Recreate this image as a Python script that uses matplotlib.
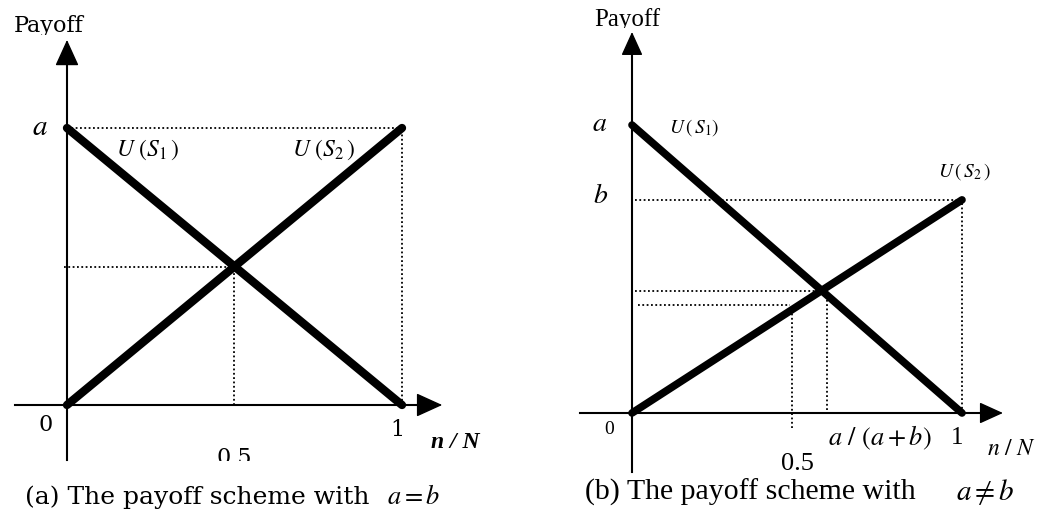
import matplotlib
matplotlib.use("Agg")
import matplotlib.pyplot as plt
from matplotlib.patches import Rectangle

plt.rcParams["mathtext.fontset"] = "stix"
plt.rcParams["font.family"] = "Liberation Serif"

# share of players n/N at the two ends of each payoff line
n_share = [0.0, 1.0]

# (a) a == b
u1_eq = [1.0, 0.0]   # U(S1): a -> 0
u2_eq = [0.0, 1.0]   # U(S2): 0 -> b (= a)

# (b) a != b
u1_neq = [1.0, 0.0]  # U(S1): a -> 0
u2_neq = [0.0, 0.74]  # U(S2): 0 -> b

W, H = 1041, 516
fig = plt.figure(figsize=(W / 100, H / 100), dpi=100)

DOT = dict(color="black", lw=1.3, ls=(0, (1, 1.4)))
THICK = dict(color="black", solid_capstyle="round")


def make_axes(left_px, right_px, origin, unit_x, unit_y):
    """Axes spanning a pixel strip, with data (0,0) at `origin` pixel."""
    ax = fig.add_axes([left_px / W, 0, (right_px - left_px) / W, 1])
    ox, oy = origin
    ax.set_xlim((left_px - ox) / unit_x, (right_px - ox) / unit_x)
    ax.set_ylim((oy - H) / unit_y, oy / unit_y)
    ax.axis("off")
    return ax


def draw_axes_arrows(ax, x0, x1, y0, y1, scale=30):
    ax.plot([x0, x1 - 0.03], [0, 0], color="black", lw=1.5)
    ax.plot([0, 0], [y0, y1 - 0.03], color="black", lw=1.5)
    ap = dict(arrowstyle="-|>,head_length=0.55,head_width=0.25",
              color="black", lw=1.0, mutation_scale=scale,
              shrinkA=0, shrinkB=0)
    ax.annotate("", xy=(x1, 0), xytext=(x1 - 0.2, 0), arrowprops=ap)
    ax.annotate("", xy=(0, y1), xytext=(0, y1 - 0.2), arrowprops=ap)


def clipped_text(ax, x, y, s, ymin, ymax, **kw):
    t = ax.text(x, y, s, clip_on=True, **kw)
    box = Rectangle((-5, ymin), 10, ymax - ymin, transform=ax.transData)
    t.set_clip_path(box)
    return t


# ---- panel (a) ----
ax = make_axes(0, 520, (67, 405), 335, 277)
draw_axes_arrows(ax, -0.155, 1.12, -0.2, 1.318)

a_eq = u1_eq[0]
b_eq = u2_eq[1]
xc = a_eq / (a_eq + b_eq)
yc = b_eq * xc
ax.plot([0, n_share[1]], [a_eq, a_eq], **DOT)
ax.plot([n_share[1], n_share[1]], [0, b_eq], **DOT)
ax.plot([-0.01, xc], [yc, yc], **DOT)
ax.plot([xc, xc], [0, yc], **DOT)
ax.plot(n_share, u1_eq, lw=6, **THICK)
ax.plot(n_share, u2_eq, lw=6, **THICK)

ax.text(-0.08, 1.0, "$a$", fontsize=21, ha="center", va="center")
ax.text(0.24, 0.92, r"$U\ (S_1\,)$", fontsize=17, ha="center", va="center")
ax.text(0.767, 0.92, r"$U\ (S_2\,)$", fontsize=17, ha="center", va="center")
ax.text(-0.063, -0.072, "0", fontsize=16, ha="center", va="center",
        family="DejaVu Serif")
ax.text(0.985, -0.09, "1", fontsize=16, ha="center", va="center",
        family="DejaVu Serif")
ax.text(1.16, -0.134, "n / N", fontsize=17, ha="center", va="center",
        fontstyle="italic", fontweight="bold")
clipped_text(ax, xc, -0.193, "0.5", -0.202, 0.0, fontsize=16,
             ha="center", va="center", family="DejaVu Serif")
clipped_text(ax, -0.055, 1.368, "Payoff", 1.336, 2.0, fontsize=16,
             ha="center", va="center", family="DejaVu Serif")
ax.text(-0.125, (405 - 497) / 277, "(a) The payoff scheme with",
        fontsize=18, ha="left", va="center", family="DejaVu Serif")
ax.text(1.036, (405 - 497) / 277, "$a = b$", fontsize=19, ha="center",
        va="center")

# ---- panel (b) ----
ax = make_axes(520, 1041, (632, 413), 330, 288)
draw_axes_arrows(ax, -0.158, 1.124, -0.205, 1.323, scale=27)

a_ne = u1_neq[0]
b_ne = u2_neq[1]
xc = a_ne / (a_ne + b_ne)
yc = b_ne * xc
y_half = b_ne * 0.5
ax.plot([0.01, n_share[1]], [b_ne, b_ne], **DOT)
ax.plot([n_share[1], n_share[1]], [0, b_ne], **DOT)
ax.plot([0.01, xc], [yc, yc], **DOT)
ax.plot([0.018, 0.48], [y_half + 0.006, y_half + 0.006], **DOT)
ax.plot([0.485, 0.485], [-0.052, y_half], **DOT)
ax.plot([xc + 0.017, xc + 0.017], [0.01, yc - 0.03], **DOT)
ax.plot(n_share, u1_neq, lw=5.5, **THICK)
ax.plot(n_share, u2_neq, lw=5.5, **THICK)

ax.text(-0.097, 1.003, "$a$", fontsize=20, ha="center", va="center")
ax.text(-0.094, 0.753, "$b$", fontsize=20, ha="center", va="center")
ax.text(0.188, 0.99, r"$U\,(\,S_1)$", fontsize=14, ha="center", va="center")
ax.text(1.006, 0.837, r"$U\,(\,S_2\,)$", fontsize=14, ha="center",
        va="center")
ax.text(-0.07, -0.059, "0", fontsize=14, ha="center", va="center")
ax.text(0.75, -0.087, r"$a\ /\ (a+b)$", fontsize=19, ha="center",
        va="center")
ax.text(0.985, -0.087, "1", fontsize=18, ha="center", va="center")
ax.text(1.15, -0.128, r"$n\ /\ N$", fontsize=17, ha="center", va="center")
clipped_text(ax, 0.5, -0.178, "0.5", -0.213, 0.0, fontsize=19,
             ha="center", va="center")
clipped_text(ax, -0.015, 1.366, "Payoff", 1.337, 2.0, fontsize=18,
             ha="center", va="center")
ax.text(-0.142, (413 - 492) / 288, "(b) The payoff scheme with",
        fontsize=21.5, ha="left", va="center")
ax.text(1.07, (413 - 492) / 288, r"$a \neq b$", fontsize=21, ha="center",
        va="center")

fig.savefig("out.png", dpi=100)
